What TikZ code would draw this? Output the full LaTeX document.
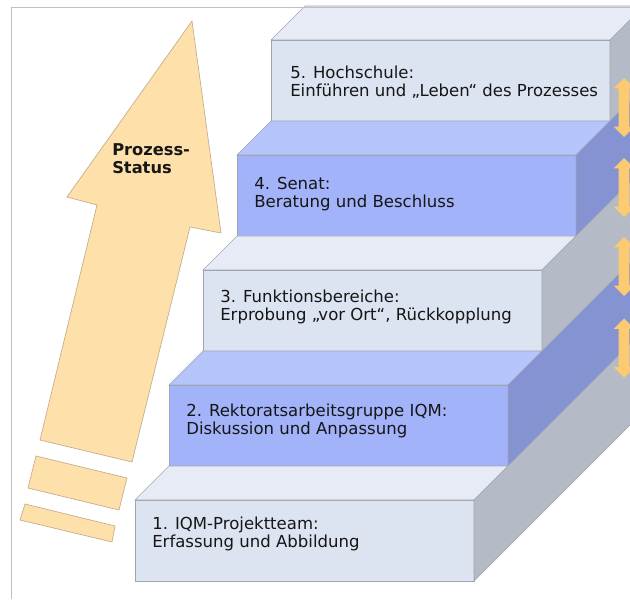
\documentclass[tikz,border=0pt]{standalone}
\usepackage{fontspec}
\setmainfont{DejaVu Sans}
\usetikzlibrary{positioning, shapes.arrows}
\definecolor{lightfront}{RGB}{221,228,241}
\definecolor{lighttop}{RGB}{230,235,246}
\definecolor{lightside}{RGB}{181,187,198}
\definecolor{bluefront}{RGB}{163,179,250}
\definecolor{bluetop}{RGB}{182,196,252}
\definecolor{blueside}{RGB}{133,147,211}
\definecolor{edgegray}{RGB}{160,166,176}
\definecolor{arrowfill}{RGB}{254,224,170}
\definecolor{arrowline}{RGB}{196,172,140}
\definecolor{dblfill}{RGB}{252,202,112}
\definecolor{framegray}{RGB}{192,192,192}
\definecolor{textcol}{RGB}{22,22,22}

\begin{document}
\begin{tikzpicture}[x=0.75pt, y=0.75pt,
  stepbox/.style={draw=edgegray, line width=0.4pt, minimum width=254.25pt, minimum height=60.75pt, inner sep=0pt, outer sep=0pt},
  lightstep/.style={stepbox, fill=lightfront},
  bluestep/.style={stepbox, fill=bluefront},
  steptext/.style={text=textcol, align=left, inner sep=0pt, font=\fontsize{12.4pt}{13.5pt}\selectfont},
  face/.style={draw=edgegray, line width=0.4pt},
  bigarrow/.style={fill=arrowfill, draw=arrowline, line width=0.5pt},
  dblarrow/.style={double arrow, rotate=90, fill=dblfill, draw=none, minimum height=44.25pt, inner sep=3.75pt, double arrow head extend=3.75pt}]
  \useasboundingbox (0,0) rectangle (630,599);
  \clip (0,0) rectangle (630,599);

  % front faces of the steps
  \node[lightstep, anchor=south west] (s1) at (135,18) {};
  \node[bluestep, above right=25.5pt and 25.5pt of s1.north west]  (s2) {};
  \node[lightstep, above right=25.5pt and 25.5pt of s2.north west] (s3) {};
  \node[bluestep, above right=25.5pt and 25.5pt of s3.north west]  (s4) {};
  \node[lightstep, above right=25.5pt and 25.5pt of s4.north west] (s5) {};

  % top and side faces
  \filldraw[face, fill=lighttop] (s5.north west) -- (s5.north east) -- ++(34,34) -- ([shift={(34,34)}]s5.north west) -- cycle;
  \filldraw[face, fill=lightside] (s5.north east) -- ++(200,200) -- ([shift={(200,200)}]s5.south east) -- (s5.south east) -- cycle;
  \filldraw[face, fill=bluetop] (s4.north west) -- (s4.north east) -- ++(34,34) -- ([shift={(34,34)}]s4.north west) -- cycle;
  \filldraw[face, fill=blueside] (s4.north east) -- ++(200,200) -- ([shift={(200,200)}]s4.south east) -- (s4.south east) -- cycle;
  \filldraw[face, fill=lighttop] (s3.north west) -- (s3.north east) -- ++(34,34) -- ([shift={(34,34)}]s3.north west) -- cycle;
  \filldraw[face, fill=lightside] (s3.north east) -- ++(200,200) -- ([shift={(200,200)}]s3.south east) -- (s3.south east) -- cycle;
  \filldraw[face, fill=bluetop] (s2.north west) -- (s2.north east) -- ++(34,34) -- ([shift={(34,34)}]s2.north west) -- cycle;
  \filldraw[face, fill=blueside] (s2.north east) -- ++(200,200) -- ([shift={(200,200)}]s2.south east) -- (s2.south east) -- cycle;
  \filldraw[face, fill=lighttop] (s1.north west) -- (s1.north east) -- ++(34,34) -- ([shift={(34,34)}]s1.north west) -- cycle;
  \filldraw[face, fill=lightside] (s1.north east) -- ++(200,200) -- ([shift={(200,200)}]s1.south east) -- (s1.south east) -- cycle;

  % step labels
  \node[steptext, below right=12.75pt and 12.75pt of s1.north west] (t1) {1. IQM-Projektteam:\\Erfassung und Abbildung};
  \node[steptext, below right=14.25pt and 12.75pt of s2.north west] (t2) {2. Rektoratsarbeitsgruppe IQM:\\Diskussion und Anpassung};
  \node[steptext, below right=15pt and 12.75pt of s3.north west] (t3) {3. Funktionsbereiche:\\Erprobung „vor Ort“, Rückkopplung};
  \node[steptext, below right=16.5pt and 12.75pt of s4.north west] (t4) {4. Senat:\\Beratung und Beschluss};
  \node[steptext, below right=19.5pt and 14.25pt of s5.north west] (t5) {5. Hochschule:\\Einführen und „Leben“ des Prozesses};

  % double arrows on the right
  \node[dblarrow] (d1) at (624,491.5) {};
  \node[dblarrow] (d2) at (624,411.5) {};
  \node[dblarrow] (d3) at (624,332.5) {};
  \node[dblarrow] (d4) at (624,251) {};

  % process arrow
  \filldraw[bigarrow] (192,578) -- (221,366) -- (190,372) -- (132,137) -- (40,159) -- (97,394) -- (67,402) -- cycle;
  \filldraw[bigarrow] (36,143) -- (28,111) -- (119,89) -- (127,121) -- cycle;
  \filldraw[bigarrow] (25,95) -- (20,79) -- (112,57) -- (115,73) -- cycle;
  \node[text=textcol, align=left, inner sep=0pt, anchor=north west, font=\fontsize{12.2pt}{13.5pt}\selectfont\bfseries] (ps) at (112,456) {Prozess-\\Status};

  % frame
  \draw[framegray, line width=0.6pt] (11,0) -- (11,592) -- (630,592);
\end{tikzpicture}
\end{document}
